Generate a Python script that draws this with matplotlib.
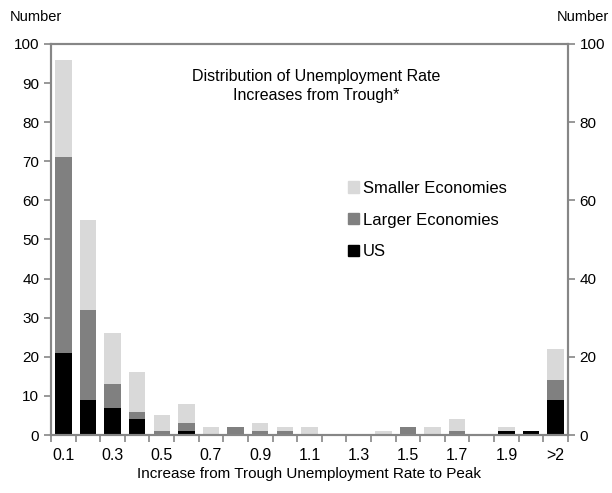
import numpy as np
import matplotlib.pyplot as plt
from matplotlib.patches import Patch

plt.rcParams['font.family'] = ['Liberation Sans', 'DejaVu Sans']
plt.rcParams['font.size'] = 10

categories = ["0.1", "0.2", "0.3", "0.4", "0.5", "0.6", "0.7", "0.8", "0.9", "1.0",
              "1.1", "1.2", "1.3", "1.4", "1.5", "1.6", "1.7", "1.8", "1.9", "2.0", ">2"]
us = [21, 9, 7, 4, 0, 1, 0, 0, 0, 0, 0, 0, 0, 0, 0, 0, 0, 0, 1, 1, 9]
larger = [50, 23, 6, 2, 1, 2, 0, 2, 1, 1, 0, 0, 0, 0, 2, 0, 1, 0, 0, 0, 5]
smaller = [25, 23, 13, 10, 4, 5, 2, 0, 2, 1, 2, 0, 0, 1, 0, 2, 3, 0, 1, 0, 8]

c_us = "black"
c_larger = "#808080"
c_smaller = "#d9d9d9"
spine_col = "#868686"

fig = plt.figure(figsize=(6.12, 4.93), dpi=100)
ax = fig.add_axes([0.0833, 0.1176, 0.8447, 0.7932])

x = np.arange(len(categories))
us = np.array(us)
larger = np.array(larger)
smaller = np.array(smaller)
w = 0.67
ax.bar(x, us, w, color=c_us)
ax.bar(x, larger, w, bottom=us, color=c_larger)
ax.bar(x, smaller, w, bottom=us + larger, color=c_smaller)

ax.set_xlim(-0.5, len(categories) - 0.5)
ax.set_ylim(0, 100)
ax.set_yticks(np.arange(0, 101, 10))

# x labels every other category, ticks between categories
ax.set_xticks(x[::2])
ax.set_xticklabels(categories[::2][:-1] + [">2"])
ax.set_xticks(np.arange(-0.5, len(categories), 1), minor=True)
ax.tick_params(axis='x', which='major', length=0, pad=9, labelsize=11.5)
ax.tick_params(axis='x', which='minor', length=5, color=spine_col, width=1.2)
ax.tick_params(axis='y', length=5, color=spine_col, width=1.2, labelsize=11)

ax2 = ax.twinx()
ax2.set_ylim(0, 100)
ax2.set_yticks(np.arange(0, 101, 20))
ax2.tick_params(axis='y', length=5, color=spine_col, width=1.2, labelsize=11)

for a in (ax, ax2):
    for s in a.spines.values():
        s.set_color(spine_col)
        s.set_linewidth(1.5)

ax.set_xlabel("Increase from Trough Unemployment Rate to Peak", labelpad=3, fontsize=11)
fig.text(0.016, 0.965, "Number", ha='left', va='center', fontsize=10.5)
fig.text(0.995, 0.965, "Number", ha='right', va='center', fontsize=10.5)
ax.text(0.513, 0.893, "Distribution of Unemployment Rate\nIncreases from Trough*",
        transform=ax.transAxes, ha='center', va='center', linespacing=1.3, fontsize=11.5)

handles = [Patch(color=c_smaller), Patch(color=c_larger), Patch(color=c_us)]
ax2.legend(handles, ["Smaller Economies", "Larger Economies", "US"],
           loc='upper left', bbox_to_anchor=(0.575, 0.65), frameon=False,
           handlelength=0.65, handleheight=0.65, handletextpad=0.25,
           labelspacing=1.0, fontsize=12, borderaxespad=0, borderpad=0)

fig.savefig("out.png", dpi=100)
